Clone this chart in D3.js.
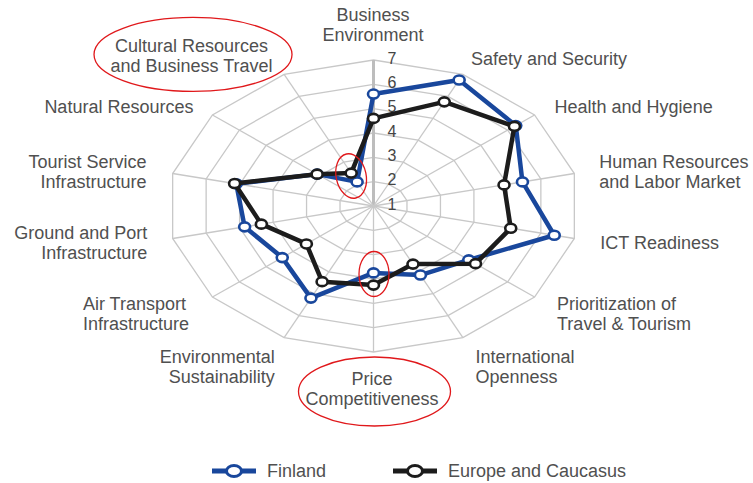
<!DOCTYPE html>
<html>
<head>
<meta charset="utf-8">
<script src="https://cdn.jsdelivr.net/npm/d3@7/dist/d3.min.js"></script>
<style>
  body { margin: 0; background: #fff; }
  text { font-family: "Liberation Sans", Arial, sans-serif; }
</style>
</head>
<body>
<svg id="radar"></svg>
<script>
// pillars, clockwise from the top
const axisLabels = [
    ["Business", "Environment"],
    ["Safety and Security"],
    ["Health and Hygiene"],
    ["Human Resources", "and Labor Market"],
    ["ICT Readiness"],
    ["Prioritization of", "Travel & Tourism"],
    ["International", "Openness"],
    ["Price", "Competitiveness"],
    ["Environmental", "Sustainability"],
    ["Air Transport", "Infrastructure"],
    ["Ground and Port", "Infrastructure"],
    ["Tourist Service", "Infrastructure"],
    ["Natural Resources"],
    ["Cultural Resources", "and Business Travel"]
];
const finland = [5.6, 6.75, 6.3, 5.45, 6.4, 4.55, 4.15, 3.75, 5.2, 4.4, 4.85, 5.1, 3.1, 2.1];
const europe = [4.6, 5.75, 6.25, 4.9, 5.1, 4.8, 3.65, 4.25, 4.45, 3.5, 4.35, 5.15, 3.1, 2.5];
const seriesNames = ["Finland", "Europe and Caucasus"];
const ticks = [1, 2, 3, 4, 5, 6, 7];

const width = 753;
const height = 483;
const cx = 373.5, cy = 206;
const BLUE = "#19479c";
const BLACK = "#1c1c1c";
const GRID = "#c8c8c8";
const LABEL = "#505050";

// the chart is wider than tall, so two radial scales
const rX = d3.scaleLinear().domain([1, 7]).range([0, 206]);
const rY = d3.scaleLinear().domain([1, 7]).range([0, 146]);
const angle = d3.scaleLinear().domain([0, axisLabels.length]).range([0, 2 * Math.PI]);
const color = d3.scaleOrdinal().domain(seriesNames).range([BLUE, BLACK]);

function pt(i, v) {
    const a = angle(i);
    return [cx + rX(v) * Math.sin(a), cy - rY(v) * Math.cos(a)];
}

const svg = d3.select("#radar").attr("width", width).attr("height", height);
svg.append("rect").attr("width", width).attr("height", height).attr("fill", "#fff");

const idx = d3.range(axisLabels.length);
const closed = d3.line().curve(d3.curveLinearClosed);

// rings
svg.append("g").selectAll("path")
    .data(ticks.slice(1))
    .enter().append("path")
    .attr("d", v => closed(idx.map(i => pt(i, v))))
    .attr("fill", "none")
    .attr("stroke", GRID)
    .attr("stroke-width", 1.3);

// spokes
svg.append("g").selectAll("line")
    .data(idx)
    .enter().append("line")
    .attr("x1", cx).attr("y1", cy)
    .attr("x2", i => pt(i, 7)[0])
    .attr("y2", i => pt(i, 7)[1])
    .attr("stroke", i => i === 0 ? "#bdbdbd" : GRID)
    .attr("stroke-width", i => i === 0 ? 3 : 1.3);

// value labels along the top spoke
svg.append("g").selectAll("text")
    .data(ticks)
    .enter().append("text")
    .attr("x", cx + 18.5)
    .attr("y", v => pt(0, v)[1] + 3.5)
    .attr("text-anchor", "middle")
    .attr("font-size", 16)
    .attr("fill", "#444")
    .text(d => d);

// pillar labels: offset from outer vertex, anchor
const labelLayout = [
    [-0.5, -35, "middle"], [8, -15.5, "start"], [20, -8, "start"], [25, -2, "start"],
    [26, 4, "start"], [22.5, 17, "start"], [12.5, 29, "start"], [-1.5, 37, "middle"],
    [-9.4, 29, "end"], [-129.5, 17, "start"], [-25.3, 4, "end"], [-26.2, -2, "end"],
    [-19, -8, "end"], [-92.6, -18.5, "middle"]
];
const labelPos = idx.map(i => {
    const p = pt(i, 7);
    return [p[0] + labelLayout[i][0], p[1] + labelLayout[i][1]];
});

const lab = svg.append("g").selectAll("text")
    .data(idx)
    .enter().append("text")
    .attr("text-anchor", i => labelLayout[i][2])
    .attr("font-size", 18)
    .attr("fill", LABEL);
lab.each(function (i) {
    const lines = axisLabels[i];
    const y0 = labelPos[i][1] - (lines.length - 1) * 10 + 6.4;
    d3.select(this).selectAll("tspan")
        .data(lines)
        .enter().append("tspan")
        .attr("x", labelPos[i][0])
        .attr("y", (d, k) => y0 + k * 20)
        .text(d => d);
});

// series
const series = [
    {name: seriesNames[0], values: finland},
    {name: seriesNames[1], values: europe}
];
const sg = svg.append("g").selectAll("g")
    .data(series)
    .enter().append("g");
sg.append("path")
    .attr("d", s => closed(s.values.map((v, i) => pt(i, v))))
    .attr("fill", "none")
    .attr("stroke", s => color(s.name))
    .attr("stroke-width", 4.5)
    .attr("stroke-linejoin", "round");
sg.selectAll("ellipse")
    .data(s => s.values.map((v, i) => ({p: pt(i, v), name: s.name})))
    .enter().append("ellipse")
    .attr("cx", d => d.p[0])
    .attr("cy", d => d.p[1])
    .attr("rx", 5.5)
    .attr("ry", 4.5)
    .attr("fill", "#fff")
    .attr("stroke", d => color(d.name))
    .attr("stroke-width", 2.6);

// red hand-drawn highlights
const mid = i => {
    const a = pt(i, finland[i]), b = pt(i, europe[i]);
    return [(a[0] + b[0]) / 2, (a[1] + b[1]) / 2];
};
const notes = [
    {c: [labelPos[13][0] + 1.5, labelPos[13][1] - 1.5], rx: 99, ry: 37, rot: 0},
    {c: [mid(13)[0] - 3, mid(13)[1] - 1.5], rx: 15, ry: 22.5, rot: -12},
    {c: [mid(7)[0] + 0.5, mid(7)[1] - 5], rx: 15, ry: 22.5, rot: 0},
    {c: [labelPos[7][0] + 2.5, labelPos[7][1] + 2.5], rx: 76, ry: 34.5, rot: 0}
];
svg.append("g").selectAll("ellipse")
    .data(notes)
    .enter().append("ellipse")
    .attr("transform", d => `translate(${d.c[0]},${d.c[1]}) rotate(${d.rot})`)
    .attr("rx", d => d.rx)
    .attr("ry", d => d.ry)
    .attr("fill", "none")
    .attr("stroke", "#e0181b")
    .attr("stroke-width", 1.3);

// legend
const legX = [234, 415];
const legY = 471;
const leg = svg.append("g").selectAll("g")
    .data(seriesNames)
    .enter().append("g")
    .attr("transform", (d, i) => `translate(${legX[i]},${legY})`);
leg.append("line")
    .attr("x1", -22).attr("x2", 22)
    .attr("stroke", d => color(d))
    .attr("stroke-width", 5);
leg.append("ellipse")
    .attr("rx", 7.5).attr("ry", 5.5)
    .attr("fill", "#fff")
    .attr("stroke", d => color(d))
    .attr("stroke-width", 3);
leg.append("text")
    .attr("x", 33)
    .attr("y", 5.5)
    .attr("font-size", 18)
    .attr("fill", LABEL)
    .text(d => d);
</script>
</body>
</html>
